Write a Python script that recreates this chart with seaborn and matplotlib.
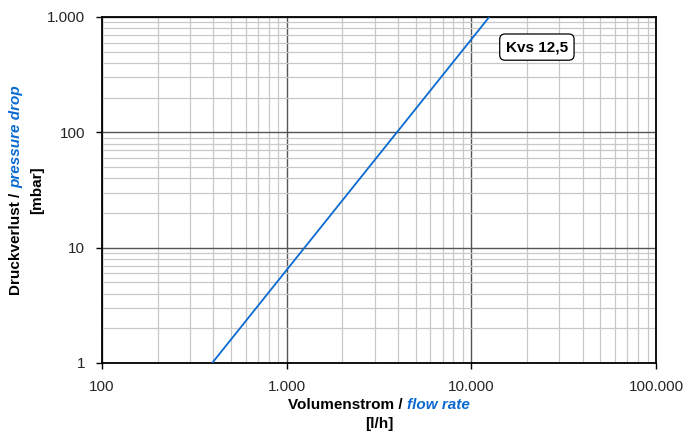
import matplotlib
matplotlib.use("Agg")
import matplotlib.pyplot as plt
import matplotlib.ticker as mticker
import seaborn as sns
import pandas as pd

# data (Kvs 12,5 characteristic)
flow_lh = [395, 12500]
dp_mbar = [1, 1000]
x_ticks = [100, 1000, 10000, 100000]
x_ticklabels = ["100", "1.000", "10.000", "100.000"]
y_ticks = [1, 10, 100, 1000]
y_ticklabels = ["1", "10", "100", "1.000"]
curve_label = "Kvs 12,5"

sns.set_theme(style="white")
plt.rcParams['font.family'] = ['Liberation Sans', 'DejaVu Sans']

BLUE = "#0A6AD0"
df = pd.DataFrame({"flow": flow_lh, "dp": dp_mbar})

fig = plt.figure(figsize=(6.85, 4.33), dpi=100)
ax = fig.add_axes([102/685, 1-363/433, 554/685, 346/433])

sns.lineplot(data=df, x="flow", y="dp", ax=ax, color=BLUE, linewidth=1.3, zorder=5)
ax.set_xscale("log")
ax.set_yscale("log")
ax.set_xlim(100, 100000)
ax.set_ylim(1, 1000)

ax.xaxis.set_major_locator(mticker.FixedLocator(x_ticks))
ax.xaxis.set_major_formatter(mticker.FixedFormatter(x_ticklabels))
ax.yaxis.set_major_locator(mticker.FixedLocator(y_ticks))
ax.yaxis.set_major_formatter(mticker.FixedFormatter(y_ticklabels))
ax.xaxis.set_minor_locator(mticker.LogLocator(base=10, subs=range(2, 10)))
ax.yaxis.set_minor_locator(mticker.LogLocator(base=10, subs=range(2, 10)))
ax.xaxis.set_minor_formatter(mticker.NullFormatter())
ax.yaxis.set_minor_formatter(mticker.NullFormatter())

ax.grid(True, which="minor", color="#c8c8c8", linewidth=0.9)
ax.grid(True, which="major", color="#555555", linewidth=1.0)
ax.set_axisbelow(True)
ax.tick_params(which="major", direction="out", length=4, width=1, color="black",
               labelsize=11, pad=8, bottom=True, left=True)
ax.tick_params(which="minor", length=0)
for s in ax.spines.values():
    s.set_color("black")
    s.set_linewidth(1.3)
ax.set_xlabel("")
ax.set_ylabel("")

ax.text(0.785, 0.913, curve_label, transform=ax.transAxes, ha="center", va="center",
        fontsize=11, fontweight="bold", color="black", zorder=10,
        bbox=dict(boxstyle="round,pad=0.4,rounding_size=0.35", fc="white", ec="black", lw=0.9))

fig.canvas.draw()
r = fig.canvas.get_renderer()

# x label: black + blue italic pieces
fs = 11
xc = (102 + 656) / 2 / 685
y1 = 1 - 405 / 433
t1 = fig.text(0, y1, "Volumenstrom / ", fontsize=fs, fontweight="bold", color="black", va="center", ha="left")
t2 = fig.text(0, y1, "flow rate", fontsize=fs, fontweight="bold", style="italic", color=BLUE, va="center", ha="left")
w1 = t1.get_window_extent(r).width / 685
w2 = t2.get_window_extent(r).width / 685
x0 = xc - (w1 + w2) / 2
t1.set_x(x0)
t2.set_x(x0 + w1)
fig.text(xc, 1 - 424 / 433, "[l/h]", fontsize=fs, fontweight="bold", color="black", va="center", ha="center")

# y label
yc = 1 - 190 / 433
xl = 16 / 685
u1 = fig.text(xl, 0, "Druckverlust / ", fontsize=fs, fontweight="bold", color="black", rotation=90, va="bottom", ha="center")
u2 = fig.text(xl, 0, "pressure drop", fontsize=fs, fontweight="bold", style="italic", color=BLUE, rotation=90, va="bottom", ha="center")
h1 = u1.get_window_extent(r).height / 433
h2 = u2.get_window_extent(r).height / 433
y0 = yc - (h1 + h2) / 2
u1.set_y(y0)
u2.set_y(y0 + h1)
fig.text(37 / 685, yc, "[mbar]", fontsize=fs, fontweight="bold", color="black", rotation=90, va="center", ha="center")

fig.savefig("out.png", dpi=100)
